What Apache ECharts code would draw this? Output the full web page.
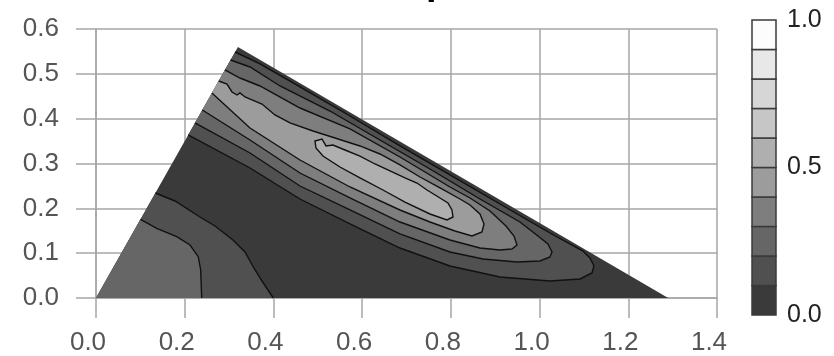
<!DOCTYPE html>
<html>
<head>
<meta charset="utf-8">
<script src="https://cdn.jsdelivr.net/npm/echarts@6/dist/echarts.min.js"></script>
<style>
  html, body { margin: 0; padding: 0; background: #fff; }
  #chart { width: 834px; height: 356px; }
</style>
</head>
<body>
<div id="chart"></div>
<script>
// colour scale boundaries (0.0 .. 1.0 in steps of 0.1)
const levels = [0, 0.1, 0.2, 0.3, 0.4, 0.5, 0.6, 0.7, 0.8, 0.9, 1.0];
const bandColors = ['#3a3a3a', '#505050', '#666666', '#7e7e7e', '#9c9c9c',
                    '#afafaf', '#c6c6c6', '#d6d6d6', '#e8e8e8', '#fcfcfc'];

// outline of the data domain (triangle)
const domain = [[0, 0], [0.32, 0.56], [1.29, 0]];

// contour lines, [x, y]
// lower-left corner, 0.1 and 0.2
const corner01 = [[0.1338, 0.2342], [0.1781, 0.2164], [0.2344, 0.1807], [0.2683, 0.1606], [0.3088, 0.1294],
                  [0.3359, 0.1026], [0.3546, 0.0692], [0.3742, 0.0379], [0.3997, 0]];
const corner02 = [[0.1003, 0.1755], [0.1368, 0.1555], [0.1819, 0.1367], [0.2119, 0.1182], [0.2306, 0.0921],
                  [0.2360, 0.0625], [0.2383, 0]];
// ridge along the upper edge, 0.1 .. 0.4 (both ends on the left edge)
const ridge01 = [[0.2078, 0.3636], [0.3472, 0.2900], [0.4599, 0.2208], [0.5726, 0.1651], [0.6853, 0.1115],
                 [0.7980, 0.0714], [0.9107, 0.0468], [1.0234, 0.0379], [1.0911, 0.0424], [1.1181, 0.0558],
                 [1.1226, 0.0714], [1.1136, 0.0892], [1.0978, 0.1048], [1.0234, 0.1450], [0.9107, 0.2097],
                 [0.7980, 0.2744], [0.6853, 0.3391], [0.5726, 0.4060], [0.4599, 0.4707], [0.3697, 0.5220],
                 [0.3135, 0.5487]];
const ridge02 = [[0.2231, 0.3904], [0.3472, 0.3234], [0.4599, 0.2498], [0.5726, 0.1963], [0.6853, 0.1428],
                 [0.7980, 0.1026], [0.8724, 0.0870], [0.9491, 0.0803], [1.0009, 0.0825], [1.0234, 0.0915],
                 [1.0280, 0.1026], [1.0189, 0.1205], [0.9964, 0.1383], [0.9558, 0.1695], [0.8656, 0.2208],
                 [0.7529, 0.2877], [0.6402, 0.3524], [0.5275, 0.4171], [0.4148, 0.4729], [0.3472, 0.5153],
                 [0.3034, 0.5309]];
const ridge03 = [[0.2397, 0.4194], [0.3472, 0.3524], [0.4599, 0.2788], [0.5726, 0.2231], [0.6853, 0.1695],
                 [0.7980, 0.1294], [0.8656, 0.1115], [0.9107, 0.1071], [0.9378, 0.1093], [0.9491, 0.1182],
                 [0.9423, 0.1383], [0.9242, 0.1606], [0.8882, 0.1941], [0.8431, 0.2231], [0.7980, 0.2476],
                 [0.7304, 0.2877], [0.6853, 0.3145], [0.5726, 0.3770], [0.4599, 0.4238], [0.3697, 0.4729],
                 [0.3246, 0.4907], [0.2906, 0.5086]];
const ridge04 = [[0.2613, 0.4573], [0.3472, 0.3792], [0.4599, 0.3078], [0.5726, 0.2476], [0.6853, 0.1963],
                 [0.7529, 0.1695], [0.8093, 0.1495], [0.8476, 0.1383], [0.8702, 0.1472], [0.8747, 0.1651],
                 [0.8656, 0.1874], [0.8431, 0.2074], [0.8206, 0.2208], [0.7755, 0.2454], [0.7304, 0.2699],
                 [0.6853, 0.2967], [0.6402, 0.3212], [0.5951, 0.3391], [0.5388, 0.3569], [0.4892, 0.3725],
                 [0.4373, 0.3904], [0.4035, 0.4082], [0.3742, 0.4327], [0.3517, 0.4417], [0.3359, 0.4484],
                 [0.3246, 0.4573], [0.3179, 0.4528], [0.3066, 0.4595], [0.2953, 0.4773], [0.2766, 0.4840]];
// closed peak, 0.5
const peak05 = [[0.4937, 0.3502], [0.5095, 0.3547], [0.5185, 0.3391], [0.5343, 0.3413], [0.5613, 0.3301],
                [0.5951, 0.3167], [0.6289, 0.2989], [0.6628, 0.2833], [0.6966, 0.2677], [0.7236, 0.2565],
                [0.7462, 0.2409], [0.7755, 0.2231], [0.7935, 0.2119], [0.8025, 0.1963], [0.8048, 0.1807],
                [0.7913, 0.1740], [0.7529, 0.1874], [0.6966, 0.2141], [0.6470, 0.2409], [0.5951, 0.2677],
                [0.5500, 0.2922], [0.5117, 0.3167], [0.4959, 0.3346]];

const legendTicks = [0, 0.5, 1.0];

// band = index into bandColors of the area above the contour
const contours = [
  { pts: domain, band: 0, extra: [], line: false, closed: true },
  { pts: corner01, band: 1, extra: [[0, 0]], line: true, closed: false },
  { pts: corner02, band: 2, extra: [[0, 0]], line: true, closed: false },
  { pts: ridge01, band: 1, extra: [], line: true, closed: false },
  { pts: ridge02, band: 2, extra: [], line: true, closed: false },
  { pts: ridge03, band: 3, extra: [], line: true, closed: false },
  { pts: ridge04, band: 4, extra: [], line: true, closed: false },
  { pts: peak05, band: 5, extra: [], line: true, closed: true }
];

const gridColor = '#a6a6a6';
const fmt = v => v.toFixed(1);

const chart = echarts.init(document.getElementById('chart'));

const option = {
  animation: false,
  title: {
    text: 'p', left: 421, top: -40,
    textStyle: { fontSize: 38, fontWeight: 'bold', color: '#000', fontFamily: 'Liberation Sans' }
  },
  grid: [
    { left: 96, right: 117, top: 29, bottom: 58 },
    { left: 752, top: 20, width: 24, height: 295 }
  ],
  xAxis: [
    {
      type: 'value', min: 0, max: 1.4, interval: 0.2, gridIndex: 0,
      axisLine: { show: true, onZero: false, lineStyle: { color: gridColor, width: 1.5 } },
      axisTick: { show: true, length: 20, lineStyle: { color: gridColor, width: 1.5 } },
      splitLine: { show: true, lineStyle: { color: gridColor, width: 1.5 } },
      axisLabel: {
        margin: 32, fontSize: 26, fontFamily: 'Liberation Sans', color: '#555',
        padding: [0, 16, 0, 0], showMinLabel: true, showMaxLabel: true, formatter: fmt
      }
    },
    { type: 'value', min: 0, max: 1, gridIndex: 1, show: false }
  ],
  yAxis: [
    {
      type: 'value', min: 0, max: 0.6, interval: 0.1, gridIndex: 0,
      axisLine: { show: true, onZero: false, lineStyle: { color: gridColor, width: 1.5 } },
      axisTick: { show: true, length: 20, lineStyle: { color: gridColor, width: 1.5 } },
      splitLine: { show: true, lineStyle: { color: gridColor, width: 1.5 } },
      axisLabel: {
        margin: 37, fontSize: 26, fontFamily: 'Liberation Sans', color: '#555',
        padding: [8, 0, 0, 0], showMinLabel: true, showMaxLabel: true, formatter: fmt
      }
    },
    {
      type: 'value', min: 0, max: 1, interval: 0.5, gridIndex: 1, position: 'right',
      axisLine: { show: false }, axisTick: { show: false }, splitLine: { show: false },
      axisLabel: {
        margin: 11, fontSize: 25, fontFamily: 'Liberation Sans', color: '#222',
        padding: [8, 0, 0, 0], showMinLabel: true, showMaxLabel: true,
        formatter: v => (legendTicks.indexOf(v) >= 0 ? fmt(v) : '')
      }
    }
  ],
  series: [
    {
      type: 'custom',
      xAxisIndex: 0, yAxisIndex: 0,
      data: contours.map(c => c.pts[0]),
      renderItem: function (params, api) {
        const c = contours[params.dataIndex];
        const line = c.pts.map(p => api.coord(p));
        const fill = line.concat(c.extra.map(p => api.coord(p)));
        const children = [{
          type: 'polygon',
          shape: { points: fill },
          style: { fill: bandColors[c.band] }
        }];
        if (c.line) {
          children.push({
            type: c.closed ? 'polygon' : 'polyline',
            shape: { points: line },
            style: { fill: 'none', stroke: '#111', lineWidth: 1.4 }
          });
        }
        return { type: 'group', children: children };
      }
    },
    {
      // colour bar
      type: 'custom',
      xAxisIndex: 1, yAxisIndex: 1,
      data: levels.slice(0, -1).map((lo, i) => [lo, levels[i + 1], i]),
      renderItem: function (params, api) {
        const a = api.coord([0, api.value(1)]);
        const b = api.coord([1, api.value(0)]);
        return {
          type: 'rect',
          shape: { x: a[0], y: a[1], width: b[0] - a[0], height: b[1] - a[1] },
          style: { fill: bandColors[api.value(2)], stroke: '#3a3a3a', lineWidth: 1.5 }
        };
      }
    }
  ]
};

chart.setOption(option);
</script>
</body>
</html>
